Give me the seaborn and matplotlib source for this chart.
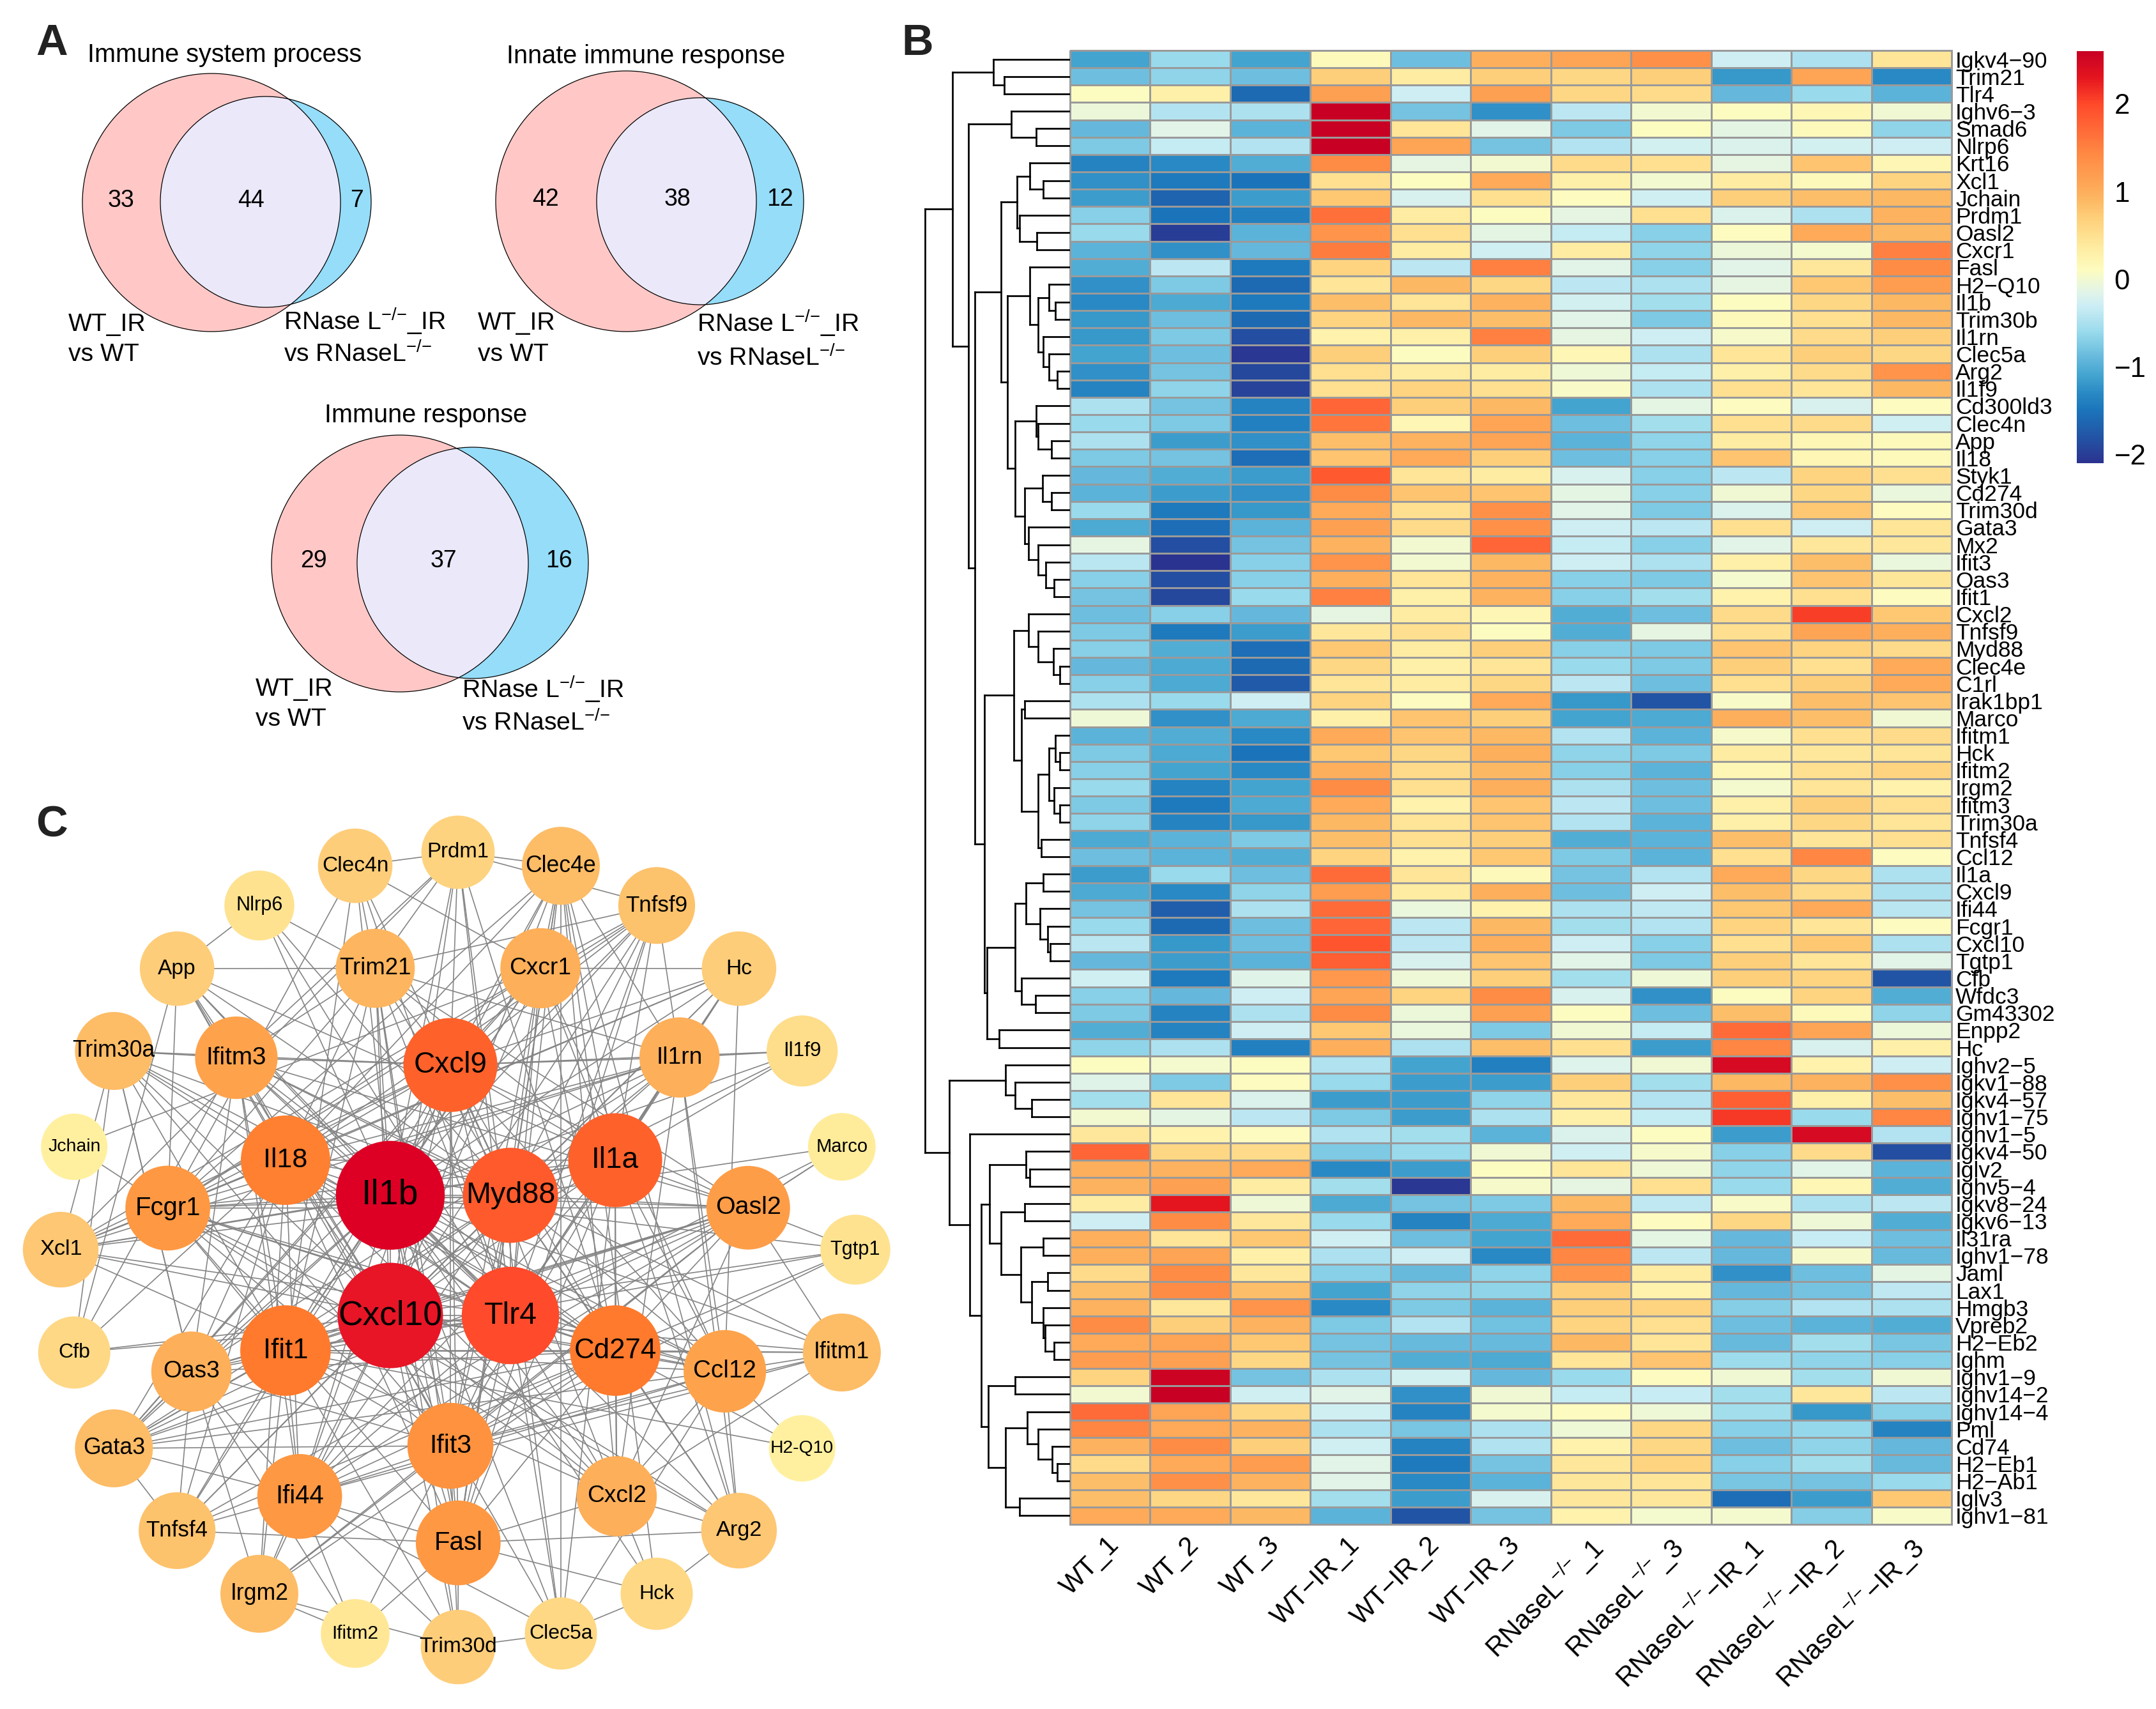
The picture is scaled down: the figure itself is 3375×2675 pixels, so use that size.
import numpy as np
import pandas as pd
import matplotlib
matplotlib.use("Agg")
import matplotlib.pyplot as plt
import seaborn as sns
from matplotlib.collections import LineCollection
from matplotlib.colors import LinearSegmentedColormap
from matplotlib.patches import Circle
from matplotlib.transforms import ScaledTranslation

# ---- panel A
venn_titles = ["Immune system process", "Innate immune response", "Immune response"]
venn_counts = [[33, 44, 7], [42, 38, 12], [29, 37, 16]]
left_label = ["WT_IR", "vs WT"]
right_label = [r"RNase L$^{{-}/{-}}$_IR", r"vs RNaseL$^{{-}/{-}}$"]

# ---- panel B
samples = ["WT_1", "WT_2", "WT_3", "WT−IR_1", "WT−IR_2", "WT−IR_3",
           r"RNaseL$^{{-}/{-}}$_1", r"RNaseL$^{{-}/{-}}$_3", r"RNaseL$^{{-}/{-}}$−IR_1",
           r"RNaseL$^{{-}/{-}}$−IR_2", r"RNaseL$^{{-}/{-}}$−IR_3"]

genes = ["Igkv4−90", "Trim21", "Tlr4", "Ighv6−3", "Smad6", "Nlrp6", "Krt16", "Xcl1", "Jchain", "Prdm1",
         "Oasl2", "Cxcr1", "Fasl", "H2−Q10", "Il1b", "Trim30b", "Il1rn", "Clec5a", "Arg2", "Il1f9",
         "Cd300ld3", "Clec4n", "App", "Il18", "Styk1", "Cd274", "Trim30d", "Gata3", "Mx2", "Ifit3",
         "Oas3", "Ifit1", "Cxcl2", "Tnfsf9", "Myd88", "Clec4e", "C1rl", "Irak1bp1", "Marco", "Ifitm1",
         "Hck", "Ifitm2", "Irgm2", "Ifitm3", "Trim30a", "Tnfsf4", "Ccl12", "Il1a", "Cxcl9", "Ifi44",
         "Fcgr1", "Cxcl10", "Tgtp1", "Cfb", "Wfdc3", "Gm43302", "Enpp2", "Hc", "Ighv2−5", "Igkv1−88",
         "Igkv4−57", "Ighv1−75", "Ighv1−5", "Igkv4−50", "Iglv2", "Ighv5−4", "Igkv8−24", "Igkv6−13",
         "Il31ra", "Ighv1−78", "Jaml", "Lax1", "Hmgb3", "Vpreb2", "H2−Eb2", "Ighm", "Ighv1−9",
         "Ighv14−2", "Ighv14−4", "Pml", "Cd74", "H2−Eb1", "H2−Ab1", "Iglv3", "Ighv1−81"]

expr_1_20 = [
    [-1.1, -0.6, -1.1, 0.15, -0.85, 1.0, 1.1, 1.35, -0.3, -0.5, 0.45],
    [-0.85, -0.65, -0.85, 0.7, 0.35, 0.7, 0.6, 0.7, -1.2, 1.1, -1.3],
    [0.1, 0.3, -1.6, 1.15, -0.3, 1.15, 0.6, 0.55, -0.9, -0.6, -0.95],
    [-0.05, -0.45, -0.5, 2.6, -0.8, -1.25, -0.4, 0.0, 0.1, 0.2, -0.02],
    [-0.9, -0.15, -0.95, 2.6, 0.45, -0.15, -0.75, 0.1, -0.12, 0.15, -0.65],
    [-0.75, -0.35, -0.45, 2.6, 1.1, -0.8, -0.45, -0.25, -0.2, -0.25, -0.3],
    [-1.35, -1.3, -1.0, 1.4, -0.1, 0.0, 0.55, 0.5, -0.1, 0.8, 0.2],
    [-1.25, -1.45, -1.5, 0.5, 0.1, 1.05, 0.3, 0.0, 0.35, 0.15, 0.65],
    [-1.15, -1.65, -1.15, 0.75, -0.22, 0.5, 0.12, -0.28, 0.7, 0.85, 0.9],
    [-0.7, -1.5, -1.4, 1.65, 0.35, 0.1, -0.1, 0.5, -0.2, -0.5, 0.95],
    [-0.6, -2.0, -0.95, 1.3, 0.5, -0.12, -0.35, -0.7, 0.12, 1.05, 0.9],
    [-0.95, -1.25, -0.9, 1.55, 0.35, -0.28, 0.35, -0.65, -0.05, 0.02, 1.5],
    [-1.0, -0.4, -1.45, 0.65, -0.4, 1.5, -0.15, -0.7, -0.15, 0.4, 1.4],
    [-1.25, -0.75, -1.6, 0.45, 0.9, 0.6, -0.4, -0.5, -0.1, 0.75, 1.2],
    [-1.3, -1.05, -1.45, 0.85, 0.45, 0.95, -0.25, -0.55, 0.1, 0.6, 0.9],
    [-1.2, -0.85, -1.6, 0.65, 0.9, 0.85, -0.15, -0.75, 0.15, 0.5, 0.9],
    [-1.2, -0.75, -1.85, 0.25, 0.3, 1.5, -0.1, -0.3, 0.03, 0.55, 0.7],
    [-1.1, -0.85, -2.05, 0.7, 0.1, 0.7, 0.2, -0.5, 0.45, 0.7, 0.6],
    [-1.25, -0.8, -1.9, 0.5, 0.35, 0.35, -0.03, -0.35, 0.3, 0.55, 1.3],
    [-1.35, -0.65, -1.95, 0.5, 0.65, 0.5, 0.05, -0.5, 0.5, 0.45, 0.9],
]
expr_21_40 = [
    [-0.5, -0.8, -1.35, 1.75, 0.7, 0.9, -1.1, -0.12, 0.12, -0.22, 0.12],
    [-0.6, -0.75, -1.4, 1.6, 0.2, 1.1, -0.85, -0.55, 0.5, 0.55, -0.28],
    [-0.5, -1.15, -1.25, 0.85, 0.95, 1.1, -0.95, -0.65, 0.35, 0.2, 0.15],
    [-0.75, -0.8, -1.55, 0.8, 1.05, 0.7, -0.85, -0.7, 0.8, 0.2, 0.15],
    [-0.9, -1.0, -1.15, 1.85, 0.45, 0.35, -0.22, -0.7, -0.4, 0.65, 0.5],
    [-0.95, -1.15, -1.25, 1.4, 0.8, 0.8, -0.12, -0.7, -0.02, 0.6, -0.07],
    [-0.6, -1.45, -1.2, 1.05, 0.5, 1.35, -0.15, -0.75, -0.2, 0.75, 0.12],
    [-1.05, -1.55, -0.95, 1.15, 0.55, 1.35, -0.3, -0.4, 0.5, -0.3, 0.45],
    [-0.1, -1.85, -0.8, 0.95, 0.0, 1.75, -0.35, -0.7, -0.15, 0.4, 0.4],
    [-0.42, -2.1, -0.7, 1.3, 0.0, 0.9, -0.3, -0.5, 0.3, 0.85, -0.08],
    [-0.7, -1.85, -0.7, 1.0, 0.45, 0.95, -0.7, -0.75, 0.02, 0.8, 0.42],
    [-0.8, -1.9, -0.6, 1.5, 0.3, 0.95, -0.7, -0.55, 0.25, 0.5, 0.12],
    [-0.85, -0.7, -0.9, -0.1, 0.35, 0.2, -1.0, -0.85, 0.55, 2.05, 0.75],
    [-0.75, -1.45, -1.15, 0.4, 0.5, 0.1, -1.0, -0.1, 0.5, 1.1, 1.0],
    [-0.7, -1.0, -1.55, 0.75, 0.35, 0.7, -0.7, -0.75, 0.8, 0.65, 0.55],
    [-0.9, -1.05, -1.6, 0.6, 0.3, 0.45, -0.6, -0.75, 0.7, 0.5, 1.05],
    [-0.7, -1.05, -1.75, 0.45, 0.35, 0.6, -0.4, -0.85, 0.5, 0.7, 1.05],
    [-0.5, -0.6, -0.3, 0.65, 0.12, 1.05, -1.2, -1.8, 0.05, 0.85, 0.8],
    [-0.03, -1.25, -1.05, 0.3, 0.8, 0.7, -1.1, -1.05, 1.0, 0.85, -0.02],
    [-0.95, -1.0, -1.3, 1.05, 0.8, 0.9, -0.45, -0.95, 0.03, 0.5, 0.55],
]
expr_41_58 = [
    [-0.75, -1.05, -1.5, 0.75, 0.6, 1.0, -0.65, -0.75, 0.35, 0.4, 0.45],
    [-0.7, -1.1, -1.3, 1.0, 0.55, 0.9, -0.7, -0.95, 0.2, 0.5, 0.65],
    [-0.6, -1.35, -1.1, 1.4, 0.5, 1.0, -0.5, -0.85, 0.02, 0.45, 0.25],
    [-0.75, -1.45, -1.05, 1.05, 0.25, 0.8, -0.4, -0.85, 0.3, 0.7, 0.5],
    [-0.65, -1.35, -1.2, 0.9, 0.45, 0.8, -0.45, -0.95, 0.3, 0.6, 0.45],
    [-1.05, -0.95, -0.75, 0.85, 0.5, 0.7, -1.0, -0.95, 0.85, 0.45, 0.5],
    [-0.85, -0.95, -1.0, 0.65, 0.25, 0.75, -0.75, -0.95, 0.5, 1.45, 0.12],
    [-1.15, -0.6, -0.85, 1.7, 0.45, 0.15, -0.8, -0.45, 1.05, 0.6, -0.5],
    [-1.05, -1.3, -0.65, 1.2, 0.35, 1.0, -0.85, -0.3, 0.85, 0.55, -0.5],
    [-0.8, -1.7, -0.5, 1.7, -0.07, 0.25, -0.5, -0.38, 0.75, 1.05, -0.42],
    [-0.6, -1.6, -0.85, 1.75, -0.4, 0.9, -0.55, -0.45, 0.65, 0.45, 0.12],
    [-0.42, -1.2, -0.85, 1.9, -0.4, 1.0, -0.3, -0.7, 0.5, 0.75, -0.5],
    [-0.9, -1.15, -0.95, 1.8, -0.22, 0.8, -0.15, -0.75, 0.7, 0.45, -0.15],
    [-0.28, -1.45, -0.17, 1.25, -0.03, 0.7, -0.55, -0.03, 0.7, 0.65, -1.8],
    [-0.7, -0.9, -0.3, 1.1, 0.65, 1.4, -0.22, -1.25, 0.1, 0.65, -1.0],
    [-0.75, -1.35, -0.5, 1.4, -0.05, 1.15, 0.1, -0.85, 0.85, 0.15, -0.65],
    [-1.0, -1.35, -0.3, 0.75, -0.08, -0.75, -0.02, -0.35, 1.7, 1.1, -0.05],
    [-0.65, -0.5, -1.4, 1.0, -0.5, 0.85, 0.5, -1.15, 1.45, -0.22, 0.3],
]
expr_59_85 = [
    [0.1, 0.02, 0.1, -0.48, -1.1, -1.4, -0.18, -0.02, 2.45, 0.25, -0.3],
    [-0.17, -0.75, 0.12, -0.6, -1.15, -1.15, 0.7, -0.55, 0.9, 0.95, 1.35],
    [-0.55, 0.45, -0.2, -1.15, -1.15, -0.65, 0.4, -0.45, 1.8, 0.3, 0.85],
    [0.0, -0.12, -0.4, -0.75, -1.15, -0.5, 0.3, -0.35, 2.1, -0.6, 1.45],
    [0.4, 0.25, 0.12, -0.48, -0.55, -0.95, -0.2, 0.1, -1.15, 2.45, -0.45],
    [1.75, 0.6, 0.55, -0.75, -0.6, -0.02, -0.28, 0.03, -0.7, 0.55, -1.85],
    [1.0, 0.95, 1.05, -1.3, -1.15, 0.1, 0.45, -0.03, -0.65, -0.15, -0.95],
    [0.95, 1.15, 0.35, -0.55, -2.05, 0.03, -0.1, 0.5, -0.6, 0.2, -1.0],
    [0.35, 2.3, -0.03, -1.05, -0.8, -0.75, 0.9, -0.38, 0.05, -0.5, -0.4],
    [-0.3, 1.4, 0.4, -0.6, -1.35, -1.05, 1.05, 0.12, 0.6, -0.03, -1.0],
    [1.0, 0.45, 0.75, -0.28, -0.85, -1.1, 1.7, -0.12, -0.9, -0.32, -0.85],
    [1.0, 1.1, 0.3, -0.5, -0.3, -1.3, 1.45, -0.4, -0.9, 0.03, -0.88],
    [0.55, 1.4, 0.4, -0.7, -0.88, -0.65, 1.3, 0.35, -1.25, -0.85, -0.12],
    [0.85, 1.4, 0.85, -1.1, -0.65, -0.65, 0.7, 0.25, -0.9, -0.8, -0.38],
    [0.95, 0.4, 1.3, -1.3, -0.75, -0.95, 0.7, 0.65, -0.72, -0.45, -0.5],
    [1.4, 0.7, 0.95, -0.75, -0.45, -0.82, 0.65, 0.5, -0.85, -0.95, -1.0],
    [1.05, 1.1, 0.75, -0.8, -0.88, -0.88, 0.9, 0.45, -0.88, -0.55, -0.78],
    [1.2, 1.15, 0.6, -0.8, -1.0, -1.05, 0.45, 0.8, -0.58, -0.65, -0.7],
    [0.65, 2.55, -0.8, -0.5, -0.25, -0.9, -0.6, 0.12, -0.02, -0.55, -0.02],
    [0.0, 2.65, -0.28, -0.15, -1.25, -0.02, -0.35, -0.32, -0.55, 0.4, -0.4],
    [1.7, 1.1, 0.6, -0.28, -1.35, 0.02, 0.12, -0.03, -0.55, -1.2, -0.68],
    [1.45, 1.05, 0.95, -0.5, -0.78, -0.5, -0.03, 0.6, -0.7, -0.62, -1.35],
    [0.95, 1.4, 0.7, -0.28, -1.35, -0.48, 0.25, 0.6, -0.85, -0.65, -0.9],
    [0.55, 1.05, 1.2, -0.15, -1.45, -0.8, 0.4, 0.65, -0.7, -0.55, -0.88],
    [0.85, 1.35, 0.95, -0.15, -1.3, -0.95, 0.4, 0.45, -0.78, -0.8, -0.6],
    [0.85, 0.6, 0.4, -0.55, -1.15, -0.22, 0.4, 0.4, -1.55, -1.15, 0.75],
    [1.05, 1.05, 0.9, -0.95, -1.8, -0.8, 0.25, 0.02, 0.02, -0.72, 0.05],
]

# row tree as (merge height, left, right), leaves are row numbers
tree_1_3 = (95, 1, (82, 2, 3))
tree_4_6 = (73, 4, (42, 5, 6))
tree_7_12 = (66, (50, 7, (33, 8, 9)), (63, 10, (41, 11, 12)))
tree_13_20 = (50, 13, (40, (26, 14, (18, 15, 16)), (33, 17, (26, 18, (16, 19, 20)))))
tree_21_32 = (68, (42, 21, (40, 22, (23, 23, 24))),
              (56, (34, 25, (23, 26, 27)), (52, 28, (40, 29, (30, 30, (20, 31, 32))))))
tree_33_47 = (70, (52, 33, (40, 34, (21, 35, (13, 36, 37)))),
              (60, (56, 38, 39),
               (40, (26, (18, 40, (13, 41, 42)), (20, 43, (13, 44, 45))), (36, 46, 47))))
tree_48_58 = (103, (68, (55, (33, 48, 49), (37, 50, (28, 51, (25, 52, 53)))), (60, 54, (43, 55, 56))),
              (88, 57, 58))
tree_59_62 = (80, 59, (68, 60, (48, 61, 62)))
tree_64_76 = (100, (55, 64, (50, 65, 66)),
              (86, (56, 67, 68),
               (61, (33, 69, 70), (48, (28, 71, 72), (33, 73, (31, 74, (20, 75, 76)))))))
tree_77_85 = (102, (68, 77, 78), (80, (53, 79, (40, 80, (22, 81, (16, 82, 83)))), (63, 84, 85)))
row_tree = (180,
            (146, tree_1_3, (126, tree_4_6, (118, (86, tree_7_12, (78, tree_13_20, tree_21_32)),
                                             (106, tree_33_47, tree_48_58)))),
            (150, tree_59_62, (125, 63, (110, tree_64_76, tree_77_85))))

# ---- panel C
outer_ring = ["Prdm1", "Clec4e", "Tnfsf9", "Hc", "Il1f9", "Marco", "Tgtp1", "Ifitm1", "H2-Q10", "Arg2", "Hck",
              "Clec5a", "Trim30d", "Ifitm2", "Irgm2", "Tnfsf4", "Gata3", "Cfb", "Xcl1", "Jchain", "Trim30a",
              "App", "Nlrp6", "Clec4n"]
outer_degree = [9, 13, 12, 10, 7, 4, 6, 13, 3, 11, 8, 8, 10, 5, 13, 12, 13, 8, 11, 3, 13, 10, 6, 10]
mid_ring = ["Trim21", "Cxcr1", "Il1rn", "Oasl2", "Ccl12", "Cxcl2", "Fasl", "Ifi44", "Oas3", "Fcgr1", "Ifitm3"]
mid_degree = [14, 15, 15, 18, 17, 15, 19, 19, 15, 19, 17]
inner_ring = ["Cxcl9", "Il1a", "Cd274", "Ifit3", "Ifit1", "Il18"]
inner_degree = [27, 27, 24, 20, 24, 23]
core_ring = ["Myd88", "Tlr4", "Cxcl10", "Il1b"]
core_degree = [28, 30, 37, 40]

links = {
    "Il1b": "Cxcl10 Tlr4 Myd88 Il1a Cxcl9 Cd274 Il18 Ifit1 Ifit3 Fcgr1 Fasl Ifi44 Il1rn Cxcr1 Oasl2 Ccl12 Cxcl2 "
            "Trim21 Clec4e Clec4n Tnfsf9 Hc App Xcl1 Arg2 Clec5a Prdm1 Oas3 Gata3 Tnfsf4 Trim30a Ifitm3 Ifitm1 Hck "
            "Tgtp1 Il1f9 Nlrp6 Trim30d",
    "Cxcl10": "Tlr4 Myd88 Il1a Cxcl9 Cd274 Il18 Ifit1 Ifit3 Fcgr1 Fasl Ifi44 Il1rn Cxcr1 Oasl2 Ccl12 Cxcl2 Trim21 "
              "Clec4e Tnfsf9 Hc App Xcl1 Arg2 Prdm1 Oas3 Gata3 Tnfsf4 Trim30a Ifitm3 Ifitm1 Tgtp1 Irgm2 Trim30d Cfb",
    "Tlr4": "Myd88 Il1a Cxcl9 Cd274 Il18 Ifit1 Ifit3 Fcgr1 Fasl Ifi44 Il1rn Cxcr1 Oasl2 Ccl12 Cxcl2 Trim21 Clec4e "
            "Clec4n Tnfsf9 Hc Xcl1 Clec5a Prdm1 Oas3 Gata3 Trim30a Ifitm3 Marco Nlrp6 Cfb App",
    "Myd88": "Il1a Cxcl9 Cd274 Il18 Ifit1 Ifit3 Fcgr1 Fasl Ifi44 Il1rn Oasl2 Ccl12 Trim21 Clec4e Clec4n Tnfsf9 Hc "
             "App Xcl1 Gata3 Trim30a Ifitm3 Marco Il1f9 Nlrp6 Tnfsf4 Arg2",
    "Il1a": "Cxcl9 Cd274 Il18 Ifit3 Fcgr1 Fasl Il1rn Cxcr1 Ccl12 Cxcl2 Clec4e Tnfsf9 Xcl1 Clec5a Il1f9 Gata3 Hc App "
            "Arg2 Trim21 Oasl2 Ifi44",
    "Cxcl9": "Cd274 Il18 Ifit1 Ifit3 Fcgr1 Fasl Ifi44 Il1rn Cxcr1 Oasl2 Ccl12 Cxcl2 Clec4e Tnfsf9 Hc Xcl1 Gata3 "
             "Trim21 Ifitm3 Prdm1 Il1f9 Trim30a",
    "Cd274": "Il18 Ifit1 Ifit3 Fcgr1 Fasl Ifi44 Oasl2 Ccl12 Cxcl2 Prdm1 Gata3 Tnfsf4 Ifitm1 H2-Q10 Tgtp1 Irgm2 Oas3 "
             "Arg2 Cxcr1 Ifitm3 Trim30a",
    "Ifit1": "Ifit3 Ifi44 Oasl2 Oas3 Irgm2 Ifitm1 Ifitm3 Ccl12 Trim21 Tgtp1 Gata3 Tnfsf4 Trim30d Trim30a Fcgr1 Cxcr1 "
             "Clec4n H2-Q10",
    "Il18": "Fcgr1 Fasl Ifi44 Il1rn Ccl12 Cxcl2 Gata3 Xcl1 Tnfsf4 Hc App Trim21 Clec4e Tnfsf9 Cfb Oas3 Irgm2",
    "Ifit3": "Ifi44 Oasl2 Oas3 Irgm2 Ifitm1 Ifitm2 Ifitm3 Ccl12 Fasl Trim21 Cxcr1 Tgtp1 Gata3 Trim30d Trim30a Fcgr1",
    "Fcgr1": "Fasl Il1rn Cxcl2 Clec4e Clec4n Tnfsf9 Xcl1 Hc App Oasl2 Ccl12 Arg2 Cxcr1 Trim21",
    "Oasl2": "Ifi44 Oas3 Ifitm3 Ifitm1 Trim21 Tgtp1 Gata3 Irgm2 Tnfsf4 Marco Cxcl2",
    "Fasl": "Tnfsf4 Tnfsf9 Ifi44 Trim21 Cxcr1 Clec4e Hck Arg2 Trim30d Cxcl2 Ifitm2",
    "Ifi44": "Oas3 Ifitm1 Ifitm3 Irgm2 Gata3 Trim30d Tnfsf4 Clec5a Ifitm2 Ccl12",
    "Ifitm3": "Ifitm1 App Oas3 Trim30a Trim21 Cfb Prdm1",
    "Ccl12": "Ifitm1 Cxcr1 Il1rn Cxcl2 Arg2 H2-Q10 Gata3 Clec5a Hc",
    "Cxcl2": "Hck Arg2 Il1rn Clec4e Ifitm1 Xcl1",
    "Il1rn": "Il1f9 Tnfsf9 Hc Arg2 Xcl1 Clec4e Oas3 Trim21",
    "Cxcr1": "Clec4e Clec4n Tnfsf9 Hc Xcl1 Gata3 Jchain",
    "Oas3": "Gata3 Tnfsf4 Trim30a Irgm2 Ifitm2",
    "Trim21": "Clec4n Nlrp6 Prdm1 App Tnfsf9",
    "Prdm1": "Clec4n Clec4e Xcl1 Tnfsf9 Clec5a",
    "Clec4e": "Clec5a Arg2 Hck",
    "Trim30a": "Xcl1 Oas3 Cfb",
    "App": "Nlrp6 Cfb Clec5a",
    "Gata3": "Tnfsf4 Tnfsf9",
    "Irgm2": "Ifitm2 Trim30d",
    "Marco": "Oasl2",
    "Hck": "Clec5a Arg2",
    "Jchain": "Fcgr1",
    "Clec5a": "Trim30d",
}

# ---- colours
heat_stops = [-2.1, -1.8, -1.5, -1.3, -1.1, -0.9, -0.75, -0.6, -0.45, -0.3, -0.15, 0.0, 0.1,
              0.3, 0.5, 0.7, 0.9, 1.1, 1.4, 1.7, 2.0, 2.3, 2.6]
heat_colors = ["#2b3390", "#2255a5", "#1b75bb", "#2a8ac4", "#44a5d0", "#65b8dc", "#7fcbe4", "#9adbec",
               "#b5e4f0", "#cdeef5", "#e2f4e8", "#f2f9d0", "#fdfcc0", "#fef0a8", "#fee090", "#fecf7a",
               "#fdb863", "#fea555", "#ff8c45", "#ff6b38", "#ff4a2a", "#e5151f", "#c80024"]
degree_stops = [3, 8, 13, 17, 24, 30, 40]
degree_colors = ["#fff0a0", "#fed885", "#fdbc66", "#fea34c", "#ff7a2c", "#ff4a2b", "#dd0024"]
PINK, SKY, LILAC = "#ffc8c6", "#95ddf9", "#ebe8fa"

W, H, DPI = 3375, 2675, 300
sns.set_theme(style="white")
plt.rcParams["font.family"] = ["Liberation Sans", "DejaVu Sans"]
plt.rcParams["mathtext.default"] = "regular"
for key in ["text.color", "axes.labelcolor", "xtick.color", "ytick.color"]:
    plt.rcParams[key] = "black"


def ramp(stops, colors):
    lo, hi = stops[0], stops[-1]
    return LinearSegmentedColormap.from_list("ramp", [((s - lo) / (hi - lo), c) for s, c in zip(stops, colors)])


def px_axes(left, top, right, bottom):
    return fig.add_axes([left / W, 1 - bottom / H, (right - left) / W, (bottom - top) / H])


fig = plt.figure(figsize=(W / DPI, H / DPI), dpi=DPI)
canvas = px_axes(0, 0, W, H)
canvas.set_xlim(0, W)
canvas.set_ylim(H, 0)
canvas.axis("off")

for letter, x, y in [("A", 56, 86), ("B", 1411, 86), ("C", 56, 1309)]:
    canvas.text(x, y, letter, fontsize=16.5, fontweight="bold", color="#222222", ha="left", va="baseline")

# ---- venn diagrams
venn_layout = [
    dict(big=(331, 317, 202), small=(416, 316, 165), title=(352, 86), nums=[(189, 314), (393, 314), (558, 314)],
         left=(107, 508, 555), right=(444, 503, 555)),
    dict(big=(980, 315, 204), small=(1096, 315, 162), title=(1011, 88), nums=[(854, 312), (1060, 312), (1221, 312)],
         left=(748, 506, 555), right=(1091, 506, 561)),
    dict(big=(626, 882, 201), small=(740, 881, 181), title=(667, 650), nums=[(491, 878), (694, 878), (875, 878)],
         left=(400, 1079, 1126), right=(723, 1079, 1132)),
]
for title, counts, lay in zip(venn_titles, venn_counts, venn_layout):
    bx, by, br = lay["big"]
    sx, sy, sr = lay["small"]
    big = Circle((bx, by), br, fc=PINK, ec="none")
    canvas.add_patch(big)
    canvas.add_patch(Circle((sx, sy), sr, fc=SKY, ec="none"))
    both = Circle((sx, sy), sr, fc=LILAC, ec="none")
    canvas.add_patch(both)
    both.set_clip_path(big)
    for c, r in [((bx, by), br), ((sx, sy), sr)]:
        canvas.add_patch(Circle(c, r, fc="none", ec="black", lw=0.3))
    canvas.text(*lay["title"], title, fontsize=9.5, ha="center", va="center")
    for n, pos in zip(counts, lay["nums"]):
        canvas.text(*pos, str(n), fontsize=9, ha="center", va="center")
    lx, ly1, ly2 = lay["left"]
    canvas.text(lx, ly1, left_label[0], fontsize=9.4, ha="left", va="center")
    canvas.text(lx, ly2, left_label[1], fontsize=9.4, ha="left", va="center")
    rx, ry1, ry2 = lay["right"]
    canvas.text(rx, ry1, right_label[0], fontsize=9.4, ha="left", va="center")
    canvas.text(rx, ry2, right_label[1], fontsize=9.4, ha="left", va="center")

# ---- network
rings = [
    (outer_ring, outer_degree, (717, 1956), 622, -90),
    (mid_ring, mid_degree, (717, 1956), 459, -106.4),
    (inner_ring, inner_degree, (705, 1965), 298, -90),
    (core_ring, core_degree, (705, 1965), 133, -45),
]
node_rows = []
for names, degrees, (cx, cy), radius, start in rings:
    angles = np.radians(start + 360 / len(names) * np.arange(len(names)))
    for name, d, a in zip(names, degrees, angles):
        node_rows.append(dict(name=name, degree=d, x=cx + radius * np.cos(a), y=cy + radius * np.sin(a)))
nodes = pd.DataFrame(node_rows)
pos = nodes.set_index("name")[["x", "y"]]

segments = []
for src, targets in links.items():
    for dst in targets.split():
        segments.append([pos.loc[src].values, pos.loc[dst].values])
canvas.add_collection(LineCollection(segments, colors="#858585", linewidths=0.4, zorder=1))

node_px = lambda d: (55 + d) / 1.115
marker_area = {d: (2 * node_px(d) * 72 / DPI) ** 2 for d in nodes["degree"].unique()}
sns.scatterplot(data=nodes, x="x", y="y", hue="degree", hue_norm=(degree_stops[0], degree_stops[-1]),
                palette=ramp(degree_stops, degree_colors), size="degree", sizes=marker_area,
                linewidth=0, legend=False, ax=canvas, zorder=2)
canvas.set_xlim(0, W)
canvas.set_ylim(H, 0)
for row in nodes.itertuples():
    canvas.text(row.x, row.y, row.name, fontsize=6.3 + 0.175 * row.degree, ha="center", va="center",
                color="black", zorder=3)

# ---- heatmap
HEAT_L, HEAT_T, HEAT_R, HEAT_B = 1675, 79, 3055, 2386
expr = pd.DataFrame(expr_1_20 + expr_21_40 + expr_41_58 + expr_59_85, index=genes, columns=samples)
ax_heat = px_axes(HEAT_L, HEAT_T, HEAT_R, HEAT_B)
ax_cbar = px_axes(3251, 80, 3293, 725)
sns.heatmap(expr, ax=ax_heat, cbar_ax=ax_cbar, cmap=ramp(heat_stops, heat_colors), vmin=heat_stops[0],
            vmax=heat_stops[-1], linewidths=0.6, linecolor="#9a9a9a", xticklabels=True, yticklabels=True,
            cbar_kws=dict(ticks=[-2, -1, 0, 1, 2]))
ax_heat.collections[0].set_clip_on(False)
ax_heat.yaxis.tick_right()
ax_heat.tick_params(axis="y", length=0, pad=1.5, labelsize=8.5, labelrotation=0)
ax_heat.tick_params(axis="x", length=0, pad=3, labelsize=10)
shift = ScaledTranslation(-6 / DPI, 0, fig.dpi_scale_trans)
for lab in ax_heat.get_xticklabels():
    lab.set(rotation=45, ha="right", va="top", rotation_mode="anchor")
    lab.set_transform(lab.get_transform() + shift)
ax_heat.set_xlabel("")
ax_heat.set_ylabel("")

ax_cbar.tick_params(length=0, labelsize=10.5, pad=4)
ax_cbar.collections[-1].set_linewidth(0)
for spine in ax_cbar.spines.values():
    spine.set_visible(False)


# ---- row dendrogram
def walk(node, segs):
    if isinstance(node, int):
        return 0, node - 0.5
    height, left, right = node
    h1, y1 = walk(left, segs)
    h2, y2 = walk(right, segs)
    segs.append([(h1, y1), (height, y1)])
    segs.append([(h2, y2), (height, y2)])
    segs.append([(height, y1), (height, y2)])
    return height, (y1 + y2) / 2


tree_segs = []
walk(row_tree, tree_segs)
ax_tree = px_axes(1440, HEAT_T, HEAT_L, HEAT_B)
ax_tree.add_collection(LineCollection(tree_segs, colors="black", linewidths=0.65, capstyle="projecting"))
ax_tree.set_xlim((HEAT_L - 1440) * 0.794, 0)
ax_tree.set_ylim(len(genes), 0)
ax_tree.axis("off")

fig.savefig("out.png", dpi=DPI)
